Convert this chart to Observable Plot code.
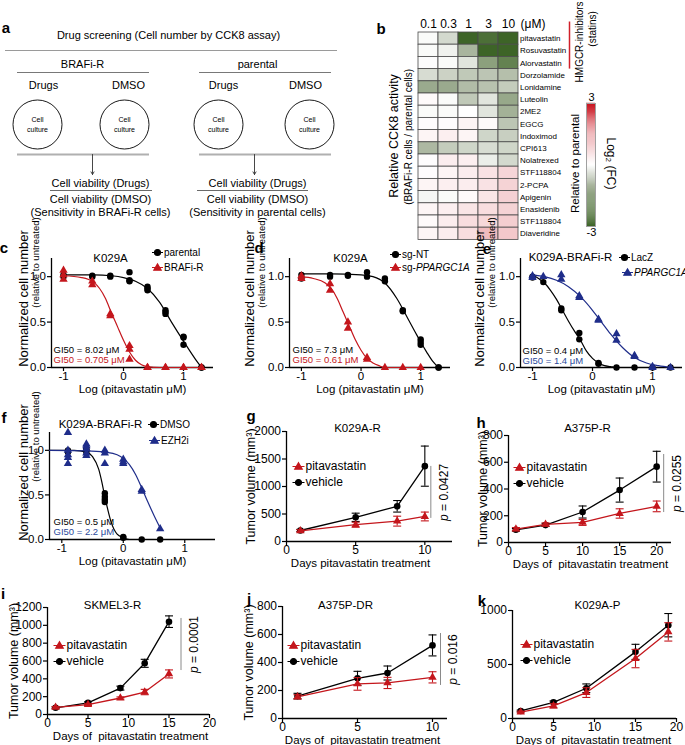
<!DOCTYPE html>
<html><head><meta charset="utf-8">
<script src="https://cdn.jsdelivr.net/npm/d3@7"></script>
<script src="https://cdn.jsdelivr.net/npm/@observablehq/plot@0.6"></script>
<style>
body{margin:0;background:#fff}
#fig{position:relative;width:685px;height:745px;overflow:hidden;background:#fff;font-family:"Liberation Sans",Arial,sans-serif}
.plbl{position:absolute;font-weight:bold;font-size:15px;line-height:1;transform:translate(-50%,-50%)}
</style></head><body><div id="fig"></div>
<script>
// ---------------- DATA ----------------
// panel a (schematic)
const aTitle = "Drug screening (Cell number by CCK8 assay)";
const aGroups = ["BRAFi-R", "parental"];
const aTreatments = ["Drugs", "DMSO"];
const aCellText = ["Cell", "culture"];
const aResultTop = "Cell viability (Drugs)";
const aResultBottom = "Cell viability (DMSO)";
const aSensitivity = ["(Sensitivity in BRAFi-R cells)", "(Sensitivity in parental cells)"];

// panel b heatmap
const concLabels = ["0.1", "0.3", "1", "3", "10"];
const drugs = ["pitavastatin","Rosuvastatin","Alorvastatin","Dorzolamide","Lonidamine","Luteolin","2ME2","EGCG","Indoximod","CPI613","Nolatrexed","STF118804","2-PCPA","Apigenin","Enasidenib","STF118804","Diaveridine"];
const log2fc = [
  [-0.05,-0.45,-3.0,-2.7,-3.0],
  [-0.05,-0.15,-1.0,-3.0,-3.0],
  [-0.03,-0.05,-0.3,-1.5,-2.2],
  [-0.4,-0.55,-0.7,-0.75,-0.85],
  [-1.25,-1.25,-0.9,-0.8,-0.65],
  [0.1,-0.05,-0.7,-0.3,-1.3],
  [-0.05,-0.05,0.0,-0.3,-1.1],
  [0.05,0.05,0.2,0.1,-0.75],
  [0.2,0.3,0.2,-0.5,-0.6],
  [-0.95,-0.65,-0.5,-0.4,-0.5],
  [0.05,0.35,0.3,-0.2,-0.45],
  [0.05,0.2,0.35,0.55,0.8],
  [0.2,0.3,0.35,0.55,0.85],
  [-0.1,-0.05,0.1,0.5,0.9],
  [0.2,0.3,0.5,0.65,0.85],
  [0.1,0.35,0.65,0.75,0.95],
  [0.2,0.35,0.65,1.3,1.05]
];
const statinCount = 3;
const fcLegendDomain = [-3, 3];

// dose-response panels (x = log10 concentration)
const doseXDomain = [-1.2, 1.5], doseYDomain = [0, 1.2];
const doseXTicks = [-1, 0, 1], doseYTicks = [0, 0.5, 1.0];

const doseX_c = [-1, -0.52, -0.22, 0.1, 0.4, 0.7, 1.0, 1.3];
const c_parental = [[1.02,1.0],[1.01,1.0],[1.01,1.0],[1.05,0.96,0.95],[0.89,0.87,0.85],[0.63,0.61,0.59],[0.34,0.33,0.25],[0,0]];
const c_brafiR = [[1.07,1.02,0.97],[0.95,0.91],[0.59,0.57],[0.24,0.2,0.09],[0,0],[0,0],[0,0],[0,0]];
const c_parentalFitX = [-1,-0.5,-0.2,0,0.2,0.4,0.6,0.8,1.0,1.2,1.3];
const c_parentalFitY = [1.02,1.02,1.01,0.99,0.95,0.87,0.72,0.5,0.29,0.09,0.0];
const c_brafiRFitX = [-1,-0.7,-0.5,-0.3,-0.2,-0.1,0,0.1,0.2,0.3,0.4,0.6,0.8,1.0,1.3];
const c_brafiRFitY = [1.01,0.99,0.94,0.76,0.6,0.45,0.3,0.17,0.08,0.03,0.01,0,0,0,0];

const doseX_d = [-1, -0.52, -0.22, 0.1, 0.4, 0.7, 1.0, 1.3];
const d_sgNT = [[1.02,0.98],[1.02,1.0],[1.02,1.01],[1.05,1.0],[0.98,0.95],[0.63,0.62],[0.31,0.28,0.25],[0,0]];
const doseX_d2 = [-1, -0.52, -0.22, 0.1, 0.4, 0.7, 1.0];
const d_sgPGC = [[1.01,0.98],[0.92,0.85],[0.5,0.43],[0.11,0.09],[0],[0],[0]];
const d_sgNTFitX = [-1,-0.5,0,0.2,0.4,0.6,0.8,0.9,1.0,1.1,1.2,1.3];
const d_sgNTFitY = [1.03,1.03,1.02,1.0,0.93,0.76,0.52,0.4,0.28,0.17,0.07,0.0];
const d_sgPGCFitX = [-1,-0.8,-0.6,-0.5,-0.4,-0.3,-0.2,-0.1,0,0.1,0.2,0.3,0.4,0.7,1.0];
const d_sgPGCFitY = [1.0,0.98,0.93,0.87,0.76,0.61,0.46,0.31,0.19,0.1,0.05,0.02,0.0,0,0];

const doseX_e = [-1,-0.82,-0.52,-0.22,0.1,0.4,0.7,1.0,1.3];
const e_lacZ = [[1.0,0.99],[0.94],[0.65,0.63],[0.38,0.31],[0.05,0.04],[0],[0],[0],[0]];
const e_pgc = [[1.01,0.99],[1.0],[1.02,0.97],[0.79,0.77],[0.53,0.52],[0.37,0.3],[0.13,0.12],[0.01,0],[0]];
const e_lacZFitX = [-1,-0.9,-0.8,-0.7,-0.6,-0.5,-0.4,-0.3,-0.2,-0.1,0,0.1,0.2,0.3,0.4,0.7,1.0,1.3];
const e_lacZFitY = [1.02,0.98,0.93,0.85,0.75,0.63,0.51,0.4,0.3,0.18,0.1,0.05,0.02,0.01,0,0,0,0];
const e_pgcFitX = [-1,-0.8,-0.6,-0.4,-0.2,0,0.15,0.3,0.5,0.7,0.9,1.1,1.3];
const e_pgcFitY = [1.02,1.0,0.96,0.89,0.78,0.63,0.5,0.37,0.22,0.11,0.05,0.02,0.0];

const doseX_f = [-0.9,-0.6,-0.3,0,0.3,0.6];
const f_dmso = [[1.0,0.98],[1.02,1.0,0.98],[0.52,0.48,0.45,0.42],[0.03,0.02],[0],[0]];
const f_ezh2 = [[1.2,1.0,0.95,0.92,0.85],[1.07,1.05,1.02,0.97,0.94],[1.0,0.97,0.85],[0.9,0.87,0.85],[0.56,0.54],[0.12]];
const f_dmsoFitX = [-1.2,-0.8,-0.6,-0.5,-0.4,-0.35,-0.3,-0.25,-0.2,-0.1,0,0.1,0.3,0.6];
const f_dmsoFitY = [1.0,1.0,0.98,0.93,0.79,0.65,0.48,0.33,0.2,0.06,0.02,0.0,0,0];
const f_ezh2FitX = [-1.2,-0.6,-0.3,-0.1,0,0.1,0.2,0.3,0.4,0.5,0.6];
const f_ezh2FitY = [1.0,0.995,0.98,0.95,0.91,0.84,0.73,0.58,0.42,0.27,0.13];

// tumor growth panels
const g_days = [1,5,8,10], g_veh = [200,440,640,1370], g_vehErr = [20,75,105,365], g_pit = [195,305,370,455], g_pitErr = [20,45,90,80], g_pRange = [420,1365];
const h_days = [1,5,10,15,20], h_veh = [95,130,228,392,567], h_vehErr = [10,10,45,90,115], h_pit = [100,135,150,217,270], h_pitErr = [12,12,22,35,40], h_pRange = [224,658];
const i_days = [1,5,9,12,15], i_veh = [75,130,296,574,1041], i_vehErr = [10,12,22,45,65], i_pit = [80,111,185,252,455], i_pitErr = [10,10,12,30,45], i_pRange = [493,1077];
const j_days = [1,5,7,10], j_veh = [160,287,325,522], j_vehErr = [20,50,50,75], j_pit = [155,247,254,294], j_pitErr = [15,45,40,40], j_pRange = [236,607];
const k_days = [1,5,9,15,19], k_veh = [70,150,280,617,864], k_vehErr = [8,12,40,70,108], k_pit = [60,117,240,555,802], k_pitErr = [8,20,45,85,85];

// ---------------- HELPERS ----------------
const FONT = "'Liberation Sans', Arial, Helvetica, sans-serif";
const RED = "#c4161c", BLUE = "#1f2d8a", BLACK = "#000000";
const fig = document.getElementById("fig");
const mctx = document.createElement("canvas").getContext("2d");
function tw(text, size, italic) { mctx.font = `${italic ? "italic " : ""}${size}px ${FONT}`; return mctx.measureText(text).width; }

function framePlot(frame, opts, m) {
  m = Object.assign({l: 70, r: 70, t: 40, b: 40}, m || {});
  const [fl, fr, ft, fb] = frame;
  const svg = Plot.plot(Object.assign({
    width: fr - fl + m.l + m.r, height: fb - ft + m.t + m.b,
    marginLeft: m.l, marginRight: m.r, marginTop: m.t, marginBottom: m.b,
    style: {background: "transparent", overflow: "visible", fontFamily: FONT, fontSize: "12px", color: "#000"}
  }, opts));
  svg.style.position = "absolute";
  svg.style.left = (fl - m.l) + "px";
  svg.style.top = (ft - m.t) + "px";
  fig.append(svg);
  return svg;
}
// anchor a text at an absolute layout position relative to the frame's top-left corner
const A = (F, x, y) => ({frameAnchor: "top-left", dx: x - F[0], dy: y - F[2], textAnchor: "middle", lineAnchor: "middle"});
const AD = (F, x, y) => ({frameAnchor: "top-left", dx: x - F[0], dy: y - F[2]});

const capSym = {draw(ctx) { ctx.moveTo(-4, 0); ctx.lineTo(4, 0); }};
function legendSym(shape, L) {
  return {draw(ctx, size) {
    const r = Math.sqrt(size / Math.PI);
    ctx.moveTo(-L, 0); ctx.lineTo(L, 0);
    if (shape === "circle") { ctx.moveTo(r, 0); ctx.arc(0, 0, r, 0, 2 * Math.PI); }
    else { const h = r * 1.25; ctx.moveTo(0, -h); ctx.lineTo(h, h * 0.7); ctx.lineTo(-h, h * 0.7); ctx.closePath(); }
  }};
}
function letter(t, x, y) { const d = document.createElement("div"); d.className = "plbl"; d.textContent = t; d.style.left = x + "px"; d.style.top = y + "px"; fig.append(d); }

// ---------------- PANEL A ----------------
(function () {
  const circX = [[37, 124], [218, 309]], treatX = [[43, 128], [223, 305]], groupX = [82, 257];
  const groupRule = [[17, 149], [199, 331]], resX = [100, 257], resRule = [[50, 152], [197, 308]], arrowX = [92, 254];
  const texts11 = [{x: 168, y: 35, t: aTitle}];
  const circles = [], cellTxt = [], thinRules = [], thickRules = [], arrows = [], resRules = [];
  aGroups.forEach((g, gi) => {
    texts11.push({x: groupX[gi], y: 64, t: g});
    thinRules.push({y: 72, x1: groupRule[gi][0], x2: groupRule[gi][1]});
    thickRules.push({y: 154, x1: groupRule[gi][0], x2: groupRule[gi][1]});
    aTreatments.forEach((tr, ti) => {
      texts11.push({x: treatX[gi][ti], y: 85, t: tr});
      circles.push({x: circX[gi][ti], y: 124});
      cellTxt.push({x: circX[gi][ti], y: 119, t: aCellText[0]}, {x: circX[gi][ti], y: 129, t: aCellText[1]});
    });
    arrows.push({x: arrowX[gi], y1: 154, y2: 174});
    texts11.push({x: resX[gi], y: 183, t: aResultTop}, {x: resX[gi], y: 199, t: aResultBottom}, {x: resX[gi], y: 212, t: aSensitivity[gi]});
    resRules.push({y: 190, x1: resRule[gi][0], x2: resRule[gi][1]});
  });
  const svg = Plot.plot({
    width: 345, height: 225, margin: 0,
    x: {domain: [0, 345], range: [0, 345], axis: null},
    y: {domain: [0, 225], range: [0, 225], axis: null},
    style: {background: "transparent", overflow: "visible", fontFamily: FONT, color: "#000"},
    marks: [
      Plot.ruleY([{y: 50, x1: 5, x2: 337}], {y: "y", x1: "x1", x2: "x2", stroke: "#9a9a9a", strokeWidth: 1}),
      Plot.ruleY(thinRules, {y: "y", x1: "x1", x2: "x2", stroke: "#555", strokeWidth: 0.8}),
      Plot.ruleY(thickRules, {y: "y", x1: "x1", x2: "x2", stroke: "#b0b0b0", strokeWidth: 2}),
      Plot.ruleY(resRules, {y: "y", x1: "x1", x2: "x2", stroke: "#444", strokeWidth: 0.8}),
      Plot.arrow(arrows, {x: "x", y1: "y1", y2: "y2", stroke: "#333", strokeWidth: 0.9, headLength: 5}),
      Plot.dot(circles, {x: "x", y: "y", r: 24.5, stroke: "#000", fill: "none", strokeWidth: 0.9}),
      Plot.text(texts11, {x: "x", y: "y", text: "t", fontSize: 11}),
      Plot.text(cellTxt, {x: "x", y: "y", text: "t", fontSize: 7})
    ]
  });
  svg.style.position = "absolute"; svg.style.left = "0px"; svg.style.top = "0px";
  fig.append(svg);
})();

// ---------------- PANEL B ----------------
const fcDomain = [-3, -2, -1, -0.4, 0, 1.5, 3];
const fcRange = ["#3d6427", "#6e8a5c", "#a9b59e", "#d7dcd2", "#ffffff", "#eeb1b5", "#c8101c"];
(function () {
  const F = [418, 518, 31.6, 239];
  const cells = drugs.flatMap((name, i) => concLabels.map((c, j) => ({i, j, v: log2fc[i][j]})));
  const rows = drugs.map((name, i) => ({i, name}));
  framePlot(F, {
    x: {domain: [0, concLabels.length], axis: null},
    y: {domain: [0, drugs.length], reverse: true, axis: null},
    color: {type: "linear", domain: fcDomain, range: fcRange, clamp: true},
    marks: [
      Plot.rect(cells, {x1: "j", x2: d => d.j + 1, y1: "i", y2: d => d.i + 1, fill: "v", stroke: "#4a4a4a", strokeWidth: 0.8}),
      Plot.text(rows, {frameAnchor: "right", y: d => d.i + 0.5, text: "name", textAnchor: "start", lineAnchor: "middle", dx: 1.5, fontSize: 8}),
      Plot.text(concLabels, {x: (d, j) => j + 0.5, frameAnchor: "top", dy: -8.6, text: d => d, textAnchor: "middle", lineAnchor: "middle", fontSize: 12}),
      Plot.text(["(μM)"], {frameAnchor: "top-right", dx: 2, dy: -8.6, textAnchor: "start", lineAnchor: "middle", fontSize: 12}),
      Plot.ruleX([concLabels.length], {y1: 0, y2: statinCount, dx: 51, insetTop: -10.5, stroke: "#d0202a", strokeWidth: 1.5}),
      Plot.text(["HMGCR-inhibitors"], {...A(F, 579, 41), rotate: -90, fontSize: 10}),
      Plot.text(["(statins)"], {...A(F, 592, 28), rotate: -90, fontSize: 10}),
      Plot.text(["Relative CCK8 activity"], {...A(F, 393, 135), rotate: -90, fontSize: 12.5}),
      Plot.text(["(BRAFi-R cells / parental cells)"], {...A(F, 408, 136), rotate: -90, fontSize: 10})
    ]
  }, {l: 40, r: 100, t: 35, b: 10});

  const L = [586, 595, 103, 226];
  const step = 0.05;
  const ramp = d3.range(fcLegendDomain[0], fcLegendDomain[1] - 1e-9, step);
  framePlot(L, {
    x: {domain: [0, 1], axis: null},
    y: {domain: fcLegendDomain, axis: null},
    color: {type: "linear", domain: fcDomain, range: fcRange, clamp: true},
    marks: [
      Plot.rect(ramp, {x1: 0, x2: 1, y1: d => d, y2: d => d + step + 0.01, fill: d => d + step / 2}),
      Plot.frame({stroke: "#a0a0a0", strokeWidth: 1}),
      Plot.text([String(fcLegendDomain[1])], {...A(L, 591, 97), fontSize: 11}),
      Plot.text([String(fcLegendDomain[0])], {...A(L, 591, 232), fontSize: 11}),
      Plot.text(["Relative to parental"], {...A(L, 575, 163), rotate: -90, fontSize: 11.5}),
      Plot.text(["Log₂ (FC)"], {...A(L, 610, 163), rotate: 90, fontSize: 12})
    ]
  }, {l: 20, r: 30, t: 20, b: 20});
})();

// ---------------- DOSE RESPONSE ----------------
const LEGFS = 10;
function doseChart(cfg) {
  const F = cfg.frame;
  const marks = [
    Plot.ruleX([doseXDomain[0]], {stroke: "#000", strokeWidth: 1.3}),
    Plot.ruleY([doseYDomain[0]], {stroke: "#000", strokeWidth: 1.3}),
    Plot.axisY({ticks: doseYTicks, tickFormat: d3.format(".1f"), tickSize: 4, tickPadding: 1.5, label: null, fontSize: 11.5, strokeWidth: 1.2}),
    Plot.axisX({ticks: doseXTicks, tickFormat: d => String(d), tickSize: 4, tickPadding: 0, label: null, fontSize: 11.5, strokeWidth: 1.2})
  ];
  for (const s of cfg.series) {
    const fit = s.fitX.map((x, i) => ({x, y: s.fitY[i]}));
    const pts = s.x.flatMap((x, i) => s.reps[i].map(y => ({x, y})));
    marks.push(Plot.line(fit, {x: "x", y: "y", stroke: s.color, strokeWidth: 1.2, curve: "monotone-x"}));
    marks.push(Plot.dot(pts, {x: "x", y: "y", fill: s.color, r: s.shape === "circle" ? 3.2 : 3.1, symbol: s.shape}));
    const [lx0, ly] = s.legendXY;
    marks.push(Plot.dot([s.name], {...AD(F, lx0, ly), r: 3, symbol: legendSym(s.shape, 5.5), fill: s.color, stroke: s.color, strokeWidth: 1.1}));
    let lx = lx0 + 6.5;
    for (const p of s.label) {
      marks.push(Plot.text([p.t], {...A(F, lx, ly), textAnchor: "start", fontSize: LEGFS, fontStyle: p.italic ? "italic" : "normal"}));
      lx += tw(p.t, LEGFS, p.italic);
    }
  }
  cfg.gi.forEach(([t, c], k) => marks.push(Plot.text([t], {...A(F, cfg.giXY[0], cfg.giXY[1] + k * 10), textAnchor: "start", fontSize: 9.5, fill: c})));
  marks.push(Plot.text([cfg.title], {...A(F, cfg.titleXY[0], cfg.titleXY[1]), fontSize: 11.5}));
  marks.push(Plot.text(["Normalized cell number"], {...A(F, cfg.ylabX[0], cfg.ylabY[0]), rotate: -90, fontSize: 13}));
  marks.push(Plot.text(["(relative to untreated)"], {...A(F, cfg.ylabX[1], cfg.ylabY[1]), rotate: -90, fontSize: 9.5}));
  marks.push(Plot.text(["Log (pitavastatin μM)"], {...A(F, (F[0] + F[1]) / 2, F[3] + 22), fontSize: 11.5}));
  framePlot(F, {x: {domain: doseXDomain}, y: {domain: doseYDomain}, marks});
}

doseChart({
  frame: [51, 213, 258, 367], title: "K029A", titleXY: [110, 258],
  series: [
    {name: "parental", label: [{t: "parental"}], color: BLACK, shape: "circle", x: doseX_c, reps: c_parental, fitX: c_parentalFitX, fitY: c_parentalFitY, legendXY: [157, 252]},
    {name: "BRAFi-R", label: [{t: "BRAFi-R"}], color: RED, shape: "triangle", x: doseX_c, reps: c_brafiR, fitX: c_brafiRFitX, fitY: c_brafiRFitY, legendXY: [157, 267]}
  ],
  gi: [["GI50 = 8.02 μM", BLACK], ["GI50 = 0.705 μM", RED]], giXY: [53, 349],
  ylabX: [23, 35], ylabY: [298, 262]
});
doseChart({
  frame: [289, 450, 258, 367], title: "K029A", titleXY: [350, 258],
  series: [
    {name: "sg-NT", label: [{t: "sg-NT"}], color: BLACK, shape: "circle", x: doseX_d, reps: d_sgNT, fitX: d_sgNTFitX, fitY: d_sgNTFitY, legendXY: [395, 254]},
    {name: "sg-PPARGC1A", label: [{t: "sg-"}, {t: "PPARGC1A", italic: true}], color: RED, shape: "triangle", x: doseX_d2, reps: d_sgPGC, fitX: d_sgPGCFitX, fitY: d_sgPGCFitY, legendXY: [395, 267]}
  ],
  gi: [["GI50 = 7.3 μM", BLACK], ["GI50 = 0.61 μM", RED]], giXY: [292, 349],
  ylabX: [249, 261], ylabY: [298, 262]
});
doseChart({
  frame: [520, 682, 258, 367], title: "K029A-BRAFi-R", titleXY: [570, 257],
  series: [
    {name: "LacZ", label: [{t: "LacZ"}], color: BLACK, shape: "circle", x: doseX_e, reps: e_lacZ, fitX: e_lacZFitX, fitY: e_lacZFitY, legendXY: [624, 257]},
    {name: "PPARGC1A", label: [{t: "PPARGC1A", italic: true}], color: BLUE, shape: "triangle", x: doseX_e, reps: e_pgc, fitX: e_pgcFitX, fitY: e_pgcFitY, legendXY: [627, 272]}
  ],
  gi: [["GI50 = 0.4 μM", BLACK], ["GI50 = 1.4 μM", "#2b4a9b"]], giXY: [522, 350],
  ylabX: [479, 491], ylabY: [298, 262]
});
doseChart({
  frame: [49, 215, 432, 539], title: "K029A-BRAFi-R", titleXY: [100, 424],
  series: [
    {name: "DMSO", label: [{t: "DMSO"}], color: BLACK, shape: "circle", x: doseX_f, reps: f_dmso, fitX: f_dmsoFitX, fitY: f_dmsoFitY, legendXY: [153, 424]},
    {name: "EZH2i", label: [{t: "EZH2i"}], color: BLUE, shape: "triangle", x: doseX_f, reps: f_ezh2, fitX: f_ezh2FitX, fitY: f_ezh2FitY, legendXY: [154, 440]}
  ],
  gi: [["GI50 = 0.5 μM", BLACK], ["GI50 = 2.2 μM", "#2b4a9b"]], giXY: [53, 521],
  ylabX: [23, 35], ylabY: [472, 436]
});

// ---------------- TUMOR GROWTH ----------------
function tumorChart(cfg) {
  const F = cfg.frame;
  const marks = [
    Plot.ruleX([cfg.xDomain[0]], {stroke: "#000", strokeWidth: 1.3}),
    Plot.ruleY([cfg.yDomain[0]], {stroke: "#000", strokeWidth: 1.3}),
    Plot.axisY({ticks: cfg.yTicks, tickFormat: d => String(d), tickSize: 4, tickPadding: 1.5, label: null, fontSize: 12, strokeWidth: 1.2}),
    Plot.axisX({ticks: cfg.xTicks, tickFormat: d => String(d), tickSize: 4, tickPadding: 0, label: null, fontSize: 12, strokeWidth: 1.2})
  ];
  const series = [
    {name: "vehicle", m: cfg.veh, e: cfg.vehErr, color: BLACK, shape: "circle"},
    {name: "pitavastatin", m: cfg.pit, e: cfg.pitErr, color: RED, shape: "triangle"}
  ];
  for (const s of series) {
    const rows = cfg.days.map((d, i) => ({d, m: s.m[i], lo: s.m[i] - s.e[i], hi: s.m[i] + s.e[i]}));
    marks.push(Plot.ruleX(rows, {x: "d", y1: "lo", y2: "hi", stroke: s.color, strokeWidth: 1.1}));
    marks.push(Plot.dot(rows, {x: "d", y: "hi", symbol: capSym, stroke: s.color, fill: "none", strokeWidth: 1.1}));
    marks.push(Plot.dot(rows, {x: "d", y: "lo", symbol: capSym, stroke: s.color, fill: "none", strokeWidth: 1.1}));
    marks.push(Plot.line(rows, {x: "d", y: "m", stroke: s.color, strokeWidth: 1.3}));
    marks.push(Plot.dot(rows, {x: "d", y: "m", fill: s.color, r: s.shape === "circle" ? 3.3 : 3.1, symbol: s.shape}));
  }
  // legend: pitavastatin first, vehicle second
  const leg = [series[1], series[0]];
  leg.forEach((s, k) => {
    const lx = cfg.legendXY[0], ly = cfg.legendXY[1] + k * 16;
    marks.push(Plot.dot([s.name], {...AD(F, lx, ly), r: 3, symbol: legendSym(s.shape, 6), fill: s.color, stroke: s.color, strokeWidth: 1.2}));
    marks.push(Plot.text([s.name], {...A(F, lx + 7, ly), textAnchor: "start", fontSize: 12}));
  });
  if (cfg.pText) {
    const last = cfg.days[cfg.days.length - 1];
    marks.push(Plot.ruleX([last], {y1: cfg.pRange[0], y2: cfg.pRange[1], dx: cfg.pDx, stroke: "#8a8a8a", strokeWidth: 1}));
    const mid = (cfg.pRange[0] + cfg.pRange[1]) / 2;
    const fs = 12, wp = tw("p", fs, true), wr = tw(" = " + cfg.pText, fs, false), half = (wp + wr) / 2;
    marks.push(Plot.text(["p"], {x: () => last, y: () => mid, dx: cfg.pDx + 13, dy: half, rotate: -90, textAnchor: "start", lineAnchor: "middle", fontStyle: "italic", fontSize: fs}));
    marks.push(Plot.text([" = " + cfg.pText], {x: () => last, y: () => mid, dx: cfg.pDx + 13, dy: half - wp, rotate: -90, textAnchor: "start", lineAnchor: "middle", fontSize: fs}));
  }
  marks.push(Plot.text([cfg.title], {...A(F, cfg.titleXY[0], cfg.titleXY[1]), fontSize: 11.5}));
  if (cfg.ylabX != null) marks.push(Plot.text(["Tumor volume (mm³)"], {...A(F, cfg.ylabX, (F[2] + F[3]) / 2), rotate: -90, fontSize: 12.5}));
  marks.push(Plot.text([cfg.xlab], {...A(F, cfg.xlabX, F[3] + 22), fontSize: 11.5}));
  framePlot(F, {x: {domain: cfg.xDomain}, y: {domain: cfg.yDomain}, marks});
}

tumorChart({frame: [286, 452, 431, 541], xDomain: [0, 12], yDomain: [0, 2000], xTicks: [0, 5, 10], yTicks: [0, 500, 1000, 1500, 2000],
  days: g_days, veh: g_veh, vehErr: g_vehErr, pit: g_pit, pitErr: g_pitErr, pRange: g_pRange, pText: "0.0427", pDx: 6,
  title: "K029A-R", titleXY: [357, 428], legendXY: [298, 466], ylabX: 250, xlab: "Days pitavastatin treatment", xlabX: 360});
tumorChart({frame: [508, 671, 435, 542], xDomain: [0, 22], yDomain: [0, 800], xTicks: [0, 5, 10, 15, 20], yTicks: [0, 200, 400, 600, 800],
  days: h_days, veh: h_veh, vehErr: h_vehErr, pit: h_pit, pitErr: h_pitErr, pRange: h_pRange, pText: "0.0255", pDx: 7,
  title: "A375P-R", titleXY: [587, 428], legendXY: [519, 467], ylabX: 482, xlab: "Days of  pitavastatin treatment", xlabX: 590});
tumorChart({frame: [47, 209, 607, 714], xDomain: [0, 20], yDomain: [0, 1200], xTicks: [0, 5, 10, 15, 20], yTicks: [0, 200, 400, 600, 800, 1000, 1200],
  days: i_days, veh: i_veh, vehErr: i_vehErr, pit: i_pit, pitErr: i_pitErr, pRange: i_pRange, pText: "0.0001", pDx: 12,
  title: "SKMEL3-R", titleXY: [112, 605], legendXY: [59, 645], ylabX: 13, xlab: "Days of  pitavastatin treatment", xlabX: 130});
tumorChart({frame: [282, 447, 606, 718], xDomain: [0, 11], yDomain: [0, 800], xTicks: [0, 5, 10], yTicks: [0, 200, 400, 600, 800],
  days: j_days, veh: j_veh, vehErr: j_vehErr, pit: j_pit, pitErr: j_pitErr, pRange: j_pRange, pText: "0.016", pDx: 8,
  title: "A375P-DR", titleXY: [345, 605], legendXY: [293, 645], ylabX: 248, xlab: "Days of  pitavastatin treatment", xlabX: 362});
tumorChart({frame: [512, 676, 610, 718], xDomain: [0, 20], yDomain: [0, 1000], xTicks: [0, 5, 10, 15, 20], yTicks: [0, 500, 1000],
  days: k_days, veh: k_veh, vehErr: k_vehErr, pit: k_pit, pitErr: k_pitErr, pRange: null, pText: null, pDx: 0,
  title: "K029A-P", titleXY: [597, 605], legendXY: [526, 644], ylabX: null, xlab: "Days of  pitavastatin treatment", xlabX: 593});

// ---------------- PANEL LETTERS ----------------
[["a", 6, 27], ["b", 381, 28], ["c", 4, 247], ["d", 259, 247], ["e", 487, 248], ["f", 4, 417], ["g", 251, 415], ["h", 481, 422], ["i", 3, 593], ["j", 249, 598], ["k", 482, 600]]
  .forEach(([t, x, y]) => letter(t, x, y));
</script></body></html>
